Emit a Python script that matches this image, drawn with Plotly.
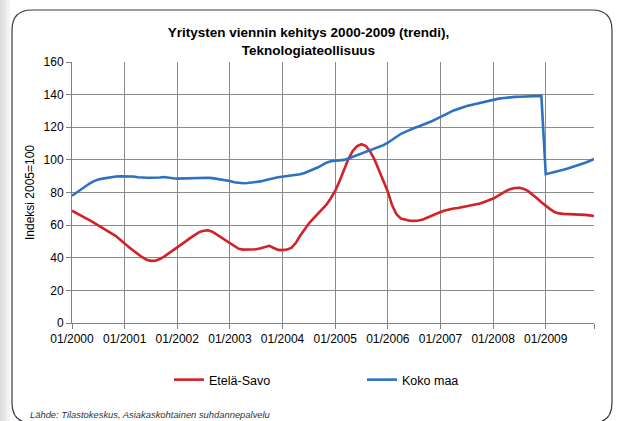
import plotly.graph_objects as go

months = [f"{m:02d}/{y}" for y in range(2000, 2010) for m in range(1, 13)]

etela_savo = [
    68.8, 67.5, 66.0, 64.5, 63.0, 61.5, 60.0, 58.3, 56.7, 55.0, 53.3, 51.2,
    48.8, 46.4, 44.2, 42.2, 40.3, 38.8, 38.1, 38.2, 39.2, 40.7, 42.5, 44.5,
    46.5, 48.3, 50.2, 52.2, 54.2, 55.7, 56.6, 56.8, 56.0, 54.3, 52.3, 50.5,
    48.8, 47.0, 45.5, 45.0, 45.0, 45.0, 45.2, 45.8, 46.5, 47.3, 46.0, 44.8,
    44.7, 45.0, 46.0, 49.0, 53.5, 57.5, 61.0, 64.0, 66.7, 69.5, 72.5, 76.5,
    81.0, 87.0, 94.0, 100.5, 105.5, 108.5, 109.6, 108.5, 105.0, 100.0, 93.5, 87.0,
    80.5, 72.0, 66.5, 64.0, 63.2, 62.7, 62.6, 62.8, 63.5, 64.7, 66.0, 67.0,
    68.0, 69.0, 69.7, 70.2, 70.5, 71.0, 71.6, 72.0, 72.4, 73.2, 74.2, 75.2,
    76.3, 77.8, 79.5, 81.0, 82.2, 82.8, 82.9, 82.2, 80.8, 78.8, 76.5, 74.0,
    71.8, 69.8, 68.0, 67.2, 66.9, 66.8, 66.8, 66.8, 66.6, 66.3, 66.0, 65.6,
]

koko_maa = [
    78.0, 80.0, 82.0, 84.0, 85.5, 87.0, 88.0, 88.5, 89.0, 89.5, 89.8, 90.0,
    90.0, 90.0, 89.8, 89.3, 89.0, 89.0, 89.0, 89.0, 89.2, 89.5, 89.0, 88.7,
    88.5, 88.6, 88.8, 89.0, 89.0, 89.0, 89.0, 89.0, 88.8, 88.4, 88.0, 87.5,
    87.0, 86.3, 85.9, 85.7, 85.8, 86.0, 86.3, 86.8, 87.5, 88.3, 88.8, 89.3,
    89.7, 90.0, 90.3, 90.7, 91.2, 92.0, 93.0, 94.0, 95.3, 96.8, 98.3, 99.2,
    99.4, 99.6, 100.0, 100.8, 101.8, 102.8, 103.8, 104.8, 105.8, 107.0, 108.0, 109.0,
    110.5, 112.5, 114.2, 116.0, 117.2, 118.5, 119.5, 120.5, 121.5, 122.5, 123.7, 125.0,
    126.2, 127.5, 129.0, 130.3, 131.3, 132.2, 133.0, 133.6, 134.3, 135.0, 135.6, 136.2,
    136.8, 137.4, 137.8, 138.2, 138.4, 138.6, 138.7, 138.8, 138.9, 139.0, 139.1, 139.2,
    91.2, 91.8, 92.5, 93.2, 93.9, 94.7, 95.5, 96.4, 97.3, 98.3, 99.3, 100.5,
]

x_tick_vals = [f"01/{y}" for y in range(2000, 2010)] + ["12/2009"]
x_tick_text = [f"01/{y}" for y in range(2000, 2010)] + [""]
y_tick_vals = [0, 20, 40, 60, 80, 100, 120, 140, 160]

title_text = "Yritysten viennin kehitys 2000-2009 (trendi),<br>Teknologiateollisuus"
y_title = "Indeksi 2005=100"
source_text = "Lähde: Tilastokeskus, Asiakaskohtainen suhdannepalvelu"

W, H = 617, 421
L, R, T, B = 72, 23, 62, 98
PW, PH = W - L - R, H - T - B


def px(xp):
    return (xp - L) / PW


def py(yp):
    return (H - B - yp) / PH


FONT = "Liberation Sans, Arial, sans-serif"

fig = go.Figure()
fig.add_trace(go.Scatter(x=months, y=etela_savo, name="Etelä-Savo", mode="lines",
                         line=dict(color="#D42027", width=2.6)))
fig.add_trace(go.Scatter(x=months, y=koko_maa, name="Koko maa", mode="lines",
                         line=dict(color="#2D72C2", width=2.6)))

# Rounded frame
x0, x1, y0, y1, r = 12, 612, 10, 423, 20
path = (
    f"M {px(x0 + r)},{py(y0)} L {px(x1 - r)},{py(y0)} "
    f"Q {px(x1)},{py(y0)} {px(x1)},{py(y0 + r)} "
    f"L {px(x1)},{py(y1 - r)} Q {px(x1)},{py(y1)} {px(x1 - r)},{py(y1)} "
    f"L {px(x0 + r)},{py(y1)} Q {px(x0)},{py(y1)} {px(x0)},{py(y1 - r)} "
    f"L {px(x0)},{py(y0 + r)} Q {px(x0)},{py(y0)} {px(x0 + r)},{py(y0)} Z"
)
shapes = []
# left shadow strip
for i, c in enumerate(["#dcdcdc", "#e4e4e4", "#ececec", "#f3f3f3"]):
    shapes.append(dict(type="rect", xref="paper", yref="paper", layer="below",
                       x0=px(i * 2.5), x1=px(i * 2.5 + 2.5), y0=py(H), y1=py(0),
                       line=dict(width=0), fillcolor=c))
shapes.append(dict(type="path", xref="paper", yref="paper", path=path, layer="below",
                   line=dict(color="#3a3a3a", width=1.2)))

fig.update_layout(
    width=W, height=H,
    margin=dict(l=L, r=R, t=T, b=B),
    paper_bgcolor="white", plot_bgcolor="white",
    font=dict(family=FONT, size=12, color="#000000"),
    title=dict(text=title_text, x=0.5, xref="container", xanchor="center",
               y=1 - 37 / H, yref="container", yanchor="middle",
               font=dict(family=FONT, size=13.5, color="#000000", weight="bold")),
    showlegend=True,
    legend=dict(orientation="h", x=px(169), xanchor="left", y=py(380), yanchor="middle",
                font=dict(family=FONT, size=12.5), entrywidth=148, bgcolor="rgba(0,0,0,0)"),
    shapes=shapes,
    annotations=[dict(text=source_text, xref="paper", yref="paper", x=px(28), y=py(414),
                      xanchor="left", yanchor="middle", showarrow=False,
                      font=dict(family=FONT, size=9.4, color="#333333", style="italic"))],
)
fig.update_xaxes(type="category", range=[0, 119], tickmode="array",
                 tickvals=x_tick_vals, ticktext=x_tick_text,
                 ticks="outside", ticklen=5, tickcolor="#808080", tickangle=0,
                 showgrid=True, gridcolor="#8a8a8a", gridwidth=1,
                 showline=True, linecolor="#808080", linewidth=1,
                 tickfont=dict(size=12), zeroline=False)
fig.update_yaxes(range=[0, 160], tickvals=y_tick_vals,
                 ticks="outside", ticklen=5, tickcolor="#808080",
                 showgrid=True, gridcolor="#8a8a8a", gridwidth=1,
                 showline=True, linecolor="#808080", linewidth=1,
                 tickfont=dict(size=12), zeroline=False,
                 title=dict(text=y_title, font=dict(size=12), standoff=6))

fig.write_html("out.html", post_script="document.body.style.margin='0px';",
               config={"displayModeBar": False})
